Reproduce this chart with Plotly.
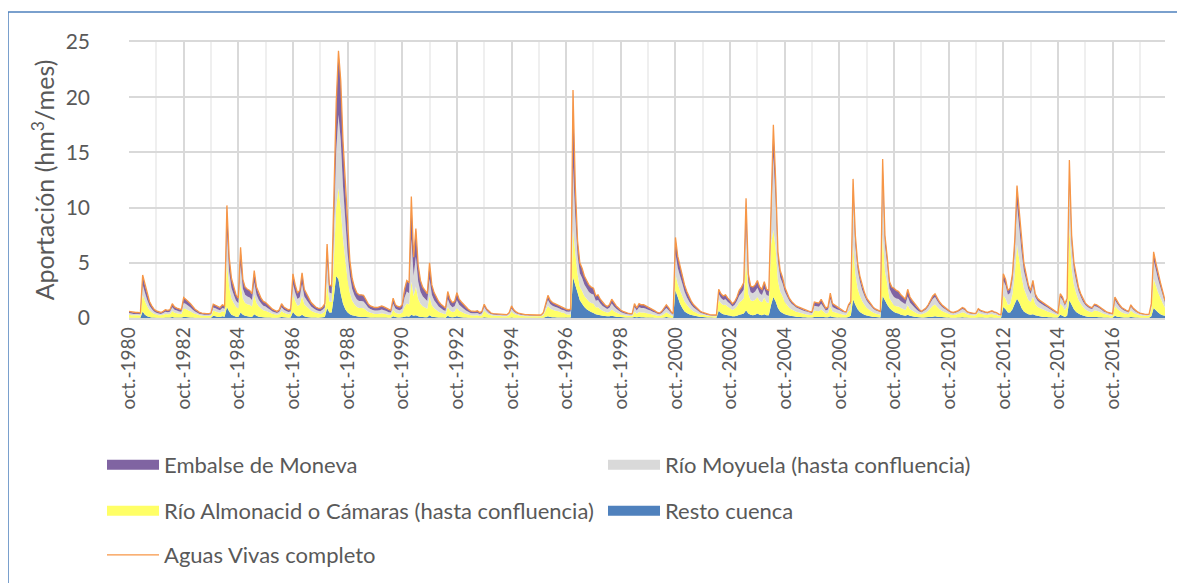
import plotly.graph_objects as go
import numpy as np

# Monthly contributions (hm3/month), hydrological years Oct-1980 .. Sep-2018 (12 values per row)
resto_cuenca = [
    0.03, 0.03, 0.03, 0.03, 0.03, 0.03, 0.6, 0.3, 0.15, 0.08, 0.05, 0.04,
    0.03, 0.03, 0.03, 0.03, 0.04, 0.04, 0.04, 0.08, 0.05, 0.04, 0.04, 0.04,
    0.1, 0.08, 0.06, 0.05, 0.04, 0.03, 0.03, 0.02, 0.02, 0.02, 0.02, 0.02,
    0.02, 0.2, 0.15, 0.1, 0.08, 0.15, 0.12, 1.0, 0.6, 0.3, 0.2, 0.12,
    0.1, 0.5, 0.3, 0.2, 0.15, 0.12, 0.1, 0.35, 0.2, 0.12, 0.08, 0.06,
    0.05, 0.04, 0.04, 0.03, 0.03, 0.03, 0.04, 0.1, 0.06, 0.04, 0.03, 0.05,
    0.55, 0.3, 0.15, 0.15, 0.3, 0.15, 0.1, 0.07, 0.05, 0.04, 0.04, 0.03,
    0.04, 0.06, 0.1, 0.9, 0.5, 0.5, 2.0, 3.8, 3.5, 2.2, 1.3, 0.8,
    0.5, 0.35, 0.25, 0.2, 0.15, 0.12, 0.1, 0.1, 0.08, 0.06, 0.05, 0.05,
    0.04, 0.04, 0.04, 0.05, 0.04, 0.04, 0.03, 0.03, 0.15, 0.08, 0.05, 0.05,
    0.06, 0.12, 0.15, 0.12, 0.3, 0.2, 0.25, 0.15, 0.1, 0.08, 0.07, 0.06,
    0.25, 0.12, 0.08, 0.06, 0.05, 0.04, 0.04, 0.03, 0.2, 0.1, 0.06, 0.08,
    0.15, 0.08, 0.06, 0.05, 0.04, 0.03, 0.03, 0.02, 0.02, 0.03, 0.02, 0.03,
    0.06, 0.04, 0.03, 0.02, 0.02, 0.02, 0.02, 0.02, 0.02, 0.02, 0.02, 0.03,
    0.05, 0.03, 0.03, 0.02, 0.02, 0.02, 0.02, 0.02, 0.02, 0.02, 0.02, 0.02,
    0.02, 0.02, 0.03, 0.1, 0.15, 0.1, 0.07, 0.06, 0.05, 0.05, 0.04, 0.04,
    0.04, 0.04, 0.04, 3.7, 3.0, 2.3, 1.6, 1.3, 1.0, 0.8, 0.65, 0.55,
    0.45, 0.35, 0.3, 0.25, 0.2, 0.18, 0.15, 0.15, 0.2, 0.15, 0.12, 0.1,
    0.08, 0.06, 0.05, 0.04, 0.04, 0.04, 0.1, 0.06, 0.08, 0.06, 0.06, 0.05,
    0.05, 0.04, 0.04, 0.03, 0.03, 0.02, 0.03, 0.05, 0.08, 0.05, 0.03, 0.02,
    2.5, 1.9, 1.3, 0.9, 0.6, 0.45, 0.35, 0.28, 0.22, 0.18, 0.14, 0.1,
    0.08, 0.06, 0.05, 0.04, 0.04, 0.03, 0.03, 0.65, 0.45, 0.35, 0.3, 0.25,
    0.2, 0.15, 0.15, 0.2, 0.3, 0.35, 0.4, 0.7, 0.4, 0.3, 0.25, 0.3,
    0.4, 0.3, 0.25, 0.35, 0.25, 0.25, 1.2, 1.9, 1.5, 0.9, 0.6, 0.45,
    0.35, 0.28, 0.22, 0.18, 0.15, 0.12, 0.1, 0.08, 0.07, 0.06, 0.05, 0.05,
    0.05, 0.1, 0.08, 0.08, 0.1, 0.08, 0.06, 0.06, 0.15, 0.08, 0.06, 0.05,
    0.05, 0.04, 0.04, 0.04, 0.1, 0.2, 1.7, 1.2, 0.8, 0.55, 0.4, 0.3,
    0.22, 0.17, 0.13, 0.1, 0.08, 0.06, 0.05, 2.0, 1.6, 1.2, 0.9, 0.7,
    0.55, 0.45, 0.4, 0.3, 0.25, 0.2, 0.3, 0.2, 0.15, 0.12, 0.08, 0.06,
    0.05, 0.05, 0.06, 0.08, 0.1, 0.12, 0.15, 0.12, 0.1, 0.08, 0.06, 0.05,
    0.04, 0.03, 0.03, 0.03, 0.04, 0.05, 0.06, 0.05, 0.04, 0.03, 0.03, 0.03,
    0.03, 0.05, 0.04, 0.04, 0.03, 0.03, 0.04, 0.04, 0.03, 0.03, 0.02, 0.02,
    1.0, 0.8, 0.5, 0.5, 0.8, 1.3, 1.75, 1.4, 0.9, 0.6, 0.45, 0.35,
    0.3, 0.35, 0.25, 0.2, 0.15, 0.12, 0.1, 0.08, 0.07, 0.06, 0.05, 0.04,
    0.04, 0.3, 0.2, 0.1, 0.2, 1.6, 1.2, 0.8, 0.55, 0.4, 0.3, 0.22,
    0.15, 0.12, 0.1, 0.08, 0.1, 0.08, 0.07, 0.06, 0.05, 0.04, 0.04, 0.03,
    0.03, 0.2, 0.12, 0.08, 0.06, 0.05, 0.04, 0.04, 0.1, 0.06, 0.05, 0.04,
    0.03, 0.03, 0.03, 0.02, 0.03, 0.15, 0.9, 0.7, 0.5, 0.35, 0.25, 0.2,
]

rio_almonacid = [
    0.26, 0.23, 0.21, 0.21, 0.21, 0.19, 1.49, 1.22, 0.92, 0.64, 0.47, 0.34,
    0.28, 0.23, 0.21, 0.26, 0.32, 0.30, 0.32, 0.55, 0.43, 0.39, 0.34, 0.32,
    0.79, 0.73, 0.65, 0.56, 0.43, 0.35, 0.28, 0.22, 0.19, 0.17, 0.17, 0.17,
    0.19, 0.47, 0.45, 0.41, 0.39, 0.47, 0.44, 4.14, 2.2, 1.49, 1.17, 0.89,
    0.77, 2.66, 1.44, 1.17, 1.1, 1.07, 0.95, 1.78, 1.17, 0.94, 0.77, 0.65,
    0.61, 0.52, 0.43, 0.35, 0.30, 0.26, 0.32, 0.54, 0.42, 0.36, 0.32, 0.34,
    1.55, 1.22, 0.97, 1.06, 1.71, 1.1, 0.95, 0.78, 0.61, 0.52, 0.43, 0.39,
    0.32, 0.38, 0.48, 2.32, 1.0, 0.96, 3.4, 6.28, 8.28, 7.72, 5.88, 4.48,
    3.0, 1.94, 1.34, 1.04, 0.86, 0.79, 0.8, 0.78, 0.65, 0.5, 0.42, 0.38,
    0.33, 0.33, 0.35, 0.38, 0.35, 0.31, 0.26, 0.24, 0.59, 0.4, 0.36, 0.34,
    0.41, 0.89, 1.17, 1.11, 3.0, 1.8, 2.6, 1.6, 1.19, 0.98, 0.87, 0.77,
    1.71, 1.04, 0.8, 0.66, 0.52, 0.44, 0.36, 0.31, 0.79, 0.58, 0.48, 0.51,
    0.77, 0.58, 0.5, 0.41, 0.33, 0.28, 0.22, 0.21, 0.21, 0.22, 0.17, 0.21,
    0.6, 0.41, 0.29, 0.22, 0.19, 0.18, 0.17, 0.16, 0.14, 0.14, 0.14, 0.24,
    0.53, 0.36, 0.26, 0.22, 0.18, 0.16, 0.14, 0.14, 0.13, 0.13, 0.13, 0.13,
    0.13, 0.13, 0.24, 0.6, 0.95, 0.75, 0.67, 0.62, 0.58, 0.53, 0.46, 0.43,
    0.29, 0.27, 0.29, 4.3, 2.9, 1.7, 1.2, 1.15, 1.0, 0.95, 0.85, 0.82,
    0.86, 0.63, 0.68, 0.55, 0.46, 0.39, 0.34, 0.4, 0.57, 0.46, 0.37, 0.3,
    0.24, 0.21, 0.17, 0.16, 0.14, 0.14, 0.46, 0.32, 0.46, 0.43, 0.43, 0.4,
    0.36, 0.33, 0.27, 0.24, 0.18, 0.16, 0.22, 0.32, 0.43, 0.34, 0.22, 0.14,
    1.45, 1.2, 1.2, 1.1, 0.9, 0.74, 0.59, 0.46, 0.37, 0.31, 0.25, 0.19,
    0.21, 0.18, 0.15, 0.13, 0.12, 0.12, 0.12, 0.98, 0.88, 0.83, 0.9, 0.78,
    0.7, 0.58, 0.68, 0.85, 1.1, 1.22, 1.4, 4.5, 1.8, 1.3, 1.28, 1.35,
    1.5, 1.25, 1.18, 1.48, 1.18, 1.12, 5.5, 6.1, 4.8, 2.5, 1.8, 1.55,
    1.1, 0.89, 0.71, 0.59, 0.52, 0.44, 0.41, 0.37, 0.33, 0.29, 0.27, 0.23,
    0.22, 0.57, 0.55, 0.53, 0.67, 0.51, 0.35, 0.39, 0.88, 0.51, 0.46, 0.4,
    0.36, 0.3, 0.25, 0.24, 0.5, 0.59, 4.9, 2.84, 1.89, 1.46, 1.13, 0.9,
    0.71, 0.6, 0.48, 0.38, 0.32, 0.29, 0.25, 5.58, 2.66, 1.94, 0.9, 0.75,
    0.6, 0.62, 0.65, 0.6, 0.56, 0.52, 0.85, 0.6, 0.52, 0.42, 0.34, 0.27,
    0.29, 0.36, 0.44, 0.58, 0.78, 0.98, 1.07, 0.87, 0.7, 0.58, 0.49, 0.42,
    0.34, 0.27, 0.24, 0.27, 0.32, 0.39, 0.46, 0.42, 0.29, 0.24, 0.22, 0.2,
    0.22, 0.42, 0.34, 0.29, 0.27, 0.24, 0.29, 0.32, 0.27, 0.24, 0.17, 0.15,
    1.05, 0.95, 0.7, 0.77, 1.4, 2.6, 4.9, 3.9, 2.9, 2.1, 1.7, 1.27,
    1.14, 1.59, 1.01, 0.83, 0.75, 0.69, 0.62, 0.56, 0.48, 0.41, 0.34, 0.27,
    0.21, 0.99, 0.88, 0.62, 0.83, 6.6, 3.28, 2.18, 1.69, 1.25, 0.99, 0.77,
    0.62, 0.54, 0.47, 0.45, 0.6, 0.58, 0.51, 0.44, 0.34, 0.29, 0.24, 0.2,
    0.19, 0.88, 0.72, 0.58, 0.46, 0.39, 0.34, 0.29, 0.57, 0.44, 0.34, 0.27,
    0.22, 0.18, 0.17, 0.16, 0.17, 0.6, 2.65, 2.24, 1.82, 1.48, 1.12, 0.73,
]

rio_moyuela = [
    0.16, 0.15, 0.13, 0.13, 0.13, 0.12, 0.92, 0.76, 0.57, 0.40, 0.29, 0.21,
    0.17, 0.15, 0.13, 0.16, 0.20, 0.18, 0.20, 0.34, 0.27, 0.24, 0.21, 0.20,
    0.49, 0.45, 0.40, 0.35, 0.27, 0.22, 0.17, 0.13, 0.12, 0.11, 0.11, 0.11,
    0.12, 0.29, 0.28, 0.25, 0.24, 0.29, 0.27, 2.58, 1.37, 0.92, 0.73, 0.55,
    0.48, 1.65, 0.9, 0.73, 0.69, 0.67, 0.59, 1.11, 0.73, 0.58, 0.48, 0.40,
    0.38, 0.32, 0.27, 0.22, 0.19, 0.16, 0.20, 0.34, 0.26, 0.23, 0.20, 0.21,
    0.97, 0.76, 0.6, 0.66, 1.06, 0.69, 0.59, 0.48, 0.38, 0.32, 0.27, 0.24,
    0.26, 0.30, 0.38, 1.86, 0.8, 0.77, 2.72, 5.02, 6.62, 6.18, 4.7, 3.58,
    2.4, 1.55, 1.07, 0.83, 0.69, 0.63, 0.64, 0.62, 0.52, 0.4, 0.34, 0.3,
    0.30, 0.30, 0.32, 0.35, 0.32, 0.28, 0.24, 0.22, 0.54, 0.37, 0.33, 0.31,
    0.38, 0.82, 1.07, 1.02, 3.85, 1.8, 2.7, 1.55, 1.09, 0.9, 0.8, 0.71,
    1.57, 0.95, 0.73, 0.61, 0.48, 0.40, 0.33, 0.29, 0.73, 0.53, 0.44, 0.47,
    0.71, 0.53, 0.46, 0.38, 0.3, 0.25, 0.2, 0.19, 0.19, 0.2, 0.16, 0.19,
    0.33, 0.23, 0.16, 0.12, 0.11, 0.1, 0.09, 0.09, 0.08, 0.08, 0.08, 0.13,
    0.29, 0.2, 0.15, 0.12, 0.1, 0.09, 0.08, 0.08, 0.07, 0.07, 0.07, 0.07,
    0.07, 0.07, 0.13, 0.34, 0.53, 0.42, 0.37, 0.35, 0.32, 0.29, 0.25, 0.24,
    0.27, 0.26, 0.27, 5.7, 3.3, 1.7, 1.25, 1.17, 1.03, 0.95, 0.86, 0.82,
    0.81, 0.59, 0.65, 0.52, 0.43, 0.37, 0.32, 0.38, 0.54, 0.43, 0.35, 0.29,
    0.22, 0.19, 0.16, 0.15, 0.13, 0.13, 0.43, 0.3, 0.44, 0.41, 0.41, 0.38,
    0.34, 0.31, 0.26, 0.22, 0.17, 0.15, 0.21, 0.31, 0.4, 0.32, 0.21, 0.14,
    1.9, 1.45, 1.3, 1.12, 0.88, 0.7, 0.56, 0.44, 0.35, 0.3, 0.24, 0.18,
    0.12, 0.1, 0.08, 0.07, 0.07, 0.07, 0.07, 0.55, 0.49, 0.46, 0.5, 0.43,
    0.39, 0.32, 0.38, 0.48, 0.62, 0.69, 0.78, 3.2, 1.0, 0.73, 0.71, 0.76,
    0.84, 0.7, 0.66, 0.83, 0.66, 0.63, 2.2, 6.6, 4.3, 1.75, 1.3, 1.15,
    0.98, 0.79, 0.63, 0.53, 0.46, 0.39, 0.36, 0.33, 0.29, 0.26, 0.24, 0.21,
    0.17, 0.45, 0.44, 0.42, 0.53, 0.4, 0.28, 0.31, 0.69, 0.4, 0.36, 0.31,
    0.32, 0.26, 0.22, 0.21, 0.44, 0.52, 4.36, 2.52, 1.68, 1.3, 1.0, 0.8,
    0.63, 0.53, 0.43, 0.34, 0.29, 0.26, 0.22, 4.96, 2.36, 1.72, 0.85, 0.75,
    0.75, 0.7, 0.68, 0.62, 0.57, 0.52, 0.8, 0.6, 0.5, 0.41, 0.32, 0.26,
    0.18, 0.23, 0.28, 0.37, 0.5, 0.62, 0.68, 0.55, 0.45, 0.37, 0.31, 0.26,
    0.22, 0.17, 0.16, 0.17, 0.2, 0.25, 0.29, 0.26, 0.18, 0.16, 0.14, 0.13,
    0.14, 0.26, 0.22, 0.18, 0.17, 0.16, 0.18, 0.2, 0.17, 0.16, 0.11, 0.09,
    1.35, 1.2, 0.9, 0.99, 1.25, 2.15, 3.6, 2.9, 2.2, 1.6, 1.3, 0.98,
    0.73, 1.0, 0.64, 0.53, 0.48, 0.44, 0.4, 0.35, 0.31, 0.26, 0.21, 0.17,
    0.14, 0.63, 0.56, 0.4, 0.53, 4.2, 2.08, 1.39, 1.07, 0.79, 0.63, 0.49,
    0.4, 0.34, 0.3, 0.29, 0.38, 0.37, 0.32, 0.28, 0.21, 0.18, 0.15, 0.13,
    0.12, 0.56, 0.46, 0.37, 0.29, 0.25, 0.22, 0.18, 0.36, 0.28, 0.21, 0.17,
    0.14, 0.12, 0.11, 0.1, 0.1, 0.38, 1.68, 1.42, 1.16, 0.94, 0.71, 0.46,
]

embalse_moneva = [
    0.15, 0.14, 0.13, 0.13, 0.13, 0.11, 0.89, 0.72, 0.56, 0.38, 0.29, 0.21,
    0.17, 0.14, 0.13, 0.15, 0.19, 0.18, 0.19, 0.33, 0.25, 0.23, 0.21, 0.19,
    0.47, 0.44, 0.39, 0.34, 0.26, 0.20, 0.17, 0.13, 0.12, 0.10, 0.10, 0.10,
    0.12, 0.29, 0.27, 0.24, 0.24, 0.29, 0.27, 2.48, 1.33, 0.89, 0.70, 0.54,
    0.45, 1.59, 0.86, 0.70, 0.66, 0.64, 0.56, 1.06, 0.70, 0.56, 0.47, 0.39,
    0.36, 0.32, 0.26, 0.20, 0.18, 0.15, 0.19, 0.32, 0.26, 0.22, 0.20, 0.20,
    0.93, 0.72, 0.58, 0.63, 1.03, 0.66, 0.56, 0.47, 0.36, 0.32, 0.26, 0.24,
    0.23, 0.26, 0.34, 1.62, 0.7, 0.67, 2.38, 4.4, 5.8, 5.4, 4.12, 3.14,
    2.1, 1.36, 0.94, 0.73, 0.6, 0.56, 0.56, 0.55, 0.45, 0.34, 0.29, 0.27,
    0.28, 0.28, 0.29, 0.32, 0.29, 0.27, 0.22, 0.21, 0.52, 0.35, 0.31, 0.30,
    0.35, 0.77, 1.01, 0.95, 3.85, 1.7, 2.55, 1.5, 1.02, 0.84, 0.76, 0.66,
    1.47, 0.89, 0.69, 0.57, 0.45, 0.37, 0.32, 0.27, 0.68, 0.49, 0.42, 0.44,
    0.67, 0.51, 0.43, 0.36, 0.28, 0.24, 0.2, 0.18, 0.18, 0.2, 0.15, 0.17,
    0.26, 0.17, 0.12, 0.09, 0.08, 0.08, 0.07, 0.06, 0.06, 0.06, 0.06, 0.10,
    0.23, 0.16, 0.11, 0.09, 0.08, 0.06, 0.06, 0.06, 0.06, 0.05, 0.05, 0.05,
    0.05, 0.06, 0.10, 0.26, 0.42, 0.33, 0.29, 0.27, 0.25, 0.23, 0.20, 0.19,
    0.20, 0.18, 0.20, 6.95, 2.8, 1.3, 0.95, 0.88, 0.77, 0.70, 0.64, 0.61,
    0.58, 0.43, 0.47, 0.38, 0.31, 0.26, 0.24, 0.27, 0.39, 0.31, 0.26, 0.21,
    0.16, 0.14, 0.12, 0.10, 0.09, 0.09, 0.31, 0.22, 0.32, 0.30, 0.30, 0.27,
    0.25, 0.22, 0.18, 0.16, 0.12, 0.12, 0.14, 0.22, 0.29, 0.24, 0.14, 0.10,
    1.45, 1.05, 0.9, 0.78, 0.62, 0.51, 0.40, 0.32, 0.26, 0.21, 0.17, 0.13,
    0.09, 0.08, 0.07, 0.06, 0.05, 0.05, 0.05, 0.42, 0.38, 0.36, 0.40, 0.34,
    0.31, 0.25, 0.29, 0.37, 0.48, 0.54, 0.62, 2.45, 0.8, 0.57, 0.56, 0.59,
    0.66, 0.55, 0.51, 0.64, 0.51, 0.50, 1.1, 2.9, 1.9, 0.85, 0.6, 0.55,
    0.37, 0.29, 0.24, 0.20, 0.17, 0.15, 0.13, 0.12, 0.11, 0.09, 0.09, 0.08,
    0.13, 0.33, 0.33, 0.32, 0.40, 0.31, 0.21, 0.24, 0.53, 0.31, 0.27, 0.24,
    0.12, 0.10, 0.09, 0.08, 0.16, 0.19, 1.64, 0.94, 0.63, 0.49, 0.37, 0.30,
    0.24, 0.20, 0.16, 0.13, 0.11, 0.09, 0.08, 1.86, 0.88, 0.64, 0.65, 0.6,
    0.8, 0.73, 0.67, 0.58, 0.52, 0.46, 0.65, 0.5, 0.43, 0.35, 0.26, 0.21,
    0.08, 0.11, 0.12, 0.17, 0.22, 0.28, 0.30, 0.26, 0.20, 0.17, 0.14, 0.12,
    0.10, 0.08, 0.07, 0.08, 0.09, 0.11, 0.14, 0.12, 0.09, 0.07, 0.06, 0.06,
    0.06, 0.12, 0.10, 0.09, 0.08, 0.07, 0.09, 0.09, 0.08, 0.07, 0.05, 0.04,
    0.6, 0.55, 0.4, 0.44, 0.55, 0.95, 1.75, 1.3, 1.0, 0.7, 0.55, 0.4,
    0.33, 0.46, 0.30, 0.24, 0.22, 0.20, 0.18, 0.16, 0.14, 0.12, 0.10, 0.07,
    0.06, 0.28, 0.26, 0.18, 0.24, 1.9, 0.94, 0.63, 0.49, 0.36, 0.28, 0.22,
    0.18, 0.15, 0.13, 0.13, 0.17, 0.17, 0.15, 0.12, 0.10, 0.09, 0.07, 0.06,
    0.06, 0.26, 0.20, 0.17, 0.14, 0.11, 0.10, 0.09, 0.17, 0.12, 0.10, 0.07,
    0.06, 0.05, 0.04, 0.05, 0.05, 0.17, 0.77, 0.64, 0.52, 0.43, 0.32, 0.21,
]

tick_labels = ["oct.-1980", "oct.-1982", "oct.-1984", "oct.-1986", "oct.-1988",
               "oct.-1990", "oct.-1992", "oct.-1994", "oct.-1996", "oct.-1998",
               "oct.-2000", "oct.-2002", "oct.-2004", "oct.-2006", "oct.-2008",
               "oct.-2010", "oct.-2012", "oct.-2014", "oct.-2016"]

n = len(resto_cuenca)
x = np.arange(n)
aguas_vivas = (np.array(resto_cuenca) + np.array(rio_almonacid)
               + np.array(rio_moyuela) + np.array(embalse_moneva))

FONT = "Lato"
TXT = "#595959"

fig = go.Figure()
series = [
    ("Resto cuenca", resto_cuenca, "#4F81BD", "legend4"),
    ("Río Almonacid o Cámaras (hasta confluencia)", rio_almonacid, "#FFFF66", "legend3"),
    ("Río Moyuela (hasta confluencia)", rio_moyuela, "#D9D9D9", "legend2"),
    ("Embalse de Moneva", embalse_moneva, "#8064A2", "legend"),
]
for name, vals, col, lg in series:
    fig.add_trace(go.Scatter(x=x, y=vals, name=name, stackgroup="one", mode="none",
                             fillcolor=col, line=dict(width=0), showlegend=False,
                             legendgroup=name))
    # legend-only entry with a wide swatch like the original area-chart key
    fig.add_trace(go.Scatter(x=[None], y=[None], name=name, mode="lines",
                             line=dict(color=col, width=12), legend=lg,
                             legendgroup=name, hoverinfo="skip"))
fig.add_trace(go.Scatter(x=x, y=aguas_vivas, name="Aguas Vivas completo", mode="lines",
                         line=dict(color="#F79646", width=1.3), legend="legend5"))

# page has an 8px body margin: page coordinate = figure coordinate + OFF
OFF = 8
W, H = 1185 - OFF, 583 - OFF
PL, PR, PT, PB = 129, 1165, 42, 318          # plot area in page pixels
L, T = PL - OFF, PT - OFF
R, B = W - (PR - OFF), H - (PB - OFF)
pw, ph = PR - PL, PB - PT

def px2x(px):
    return (px - PL) / pw

def py2y(py):
    return (PB - py) / ph

def leg(px, py):
    return dict(x=px2x(px), y=py2y(py), xanchor="left", yanchor="middle",
                orientation="h", itemwidth=52, bgcolor="rgba(0,0,0,0)",
                font=dict(family=FONT, size=22, color=TXT))

fig.update_layout(
    width=W, height=H,
    margin=dict(l=L, r=R, t=T, b=B, autoexpand=False),
    paper_bgcolor="white", plot_bgcolor="white",
    font=dict(family=FONT, color=TXT),
    showlegend=True,
    legend=leg(102, 465),
    legend2=leg(603, 465),
    legend3=leg(102, 511),
    legend4=leg(603, 511),
    legend5=leg(102, 555),
    xaxis=dict(
        range=[0, n - 1],
        tickmode="array", tickvals=list(range(0, n, 24)), ticktext=tick_labels,
        tickangle=-90, tickfont=dict(family=FONT, size=19, color=TXT),
        showgrid=True, gridcolor="#D9D9D9", gridwidth=1.5,
        minor=dict(tickmode="array", tickvals=list(range(12, n + 1, 24)),
                   showgrid=True, gridcolor="#EFEFEF", gridwidth=1.5),
        showline=True, linecolor="#D9D9D9", linewidth=1.5, mirror=True,
        ticks="", zeroline=False,
    ),
    yaxis=dict(
        range=[0, 25], dtick=5,
        tickfont=dict(family=FONT, size=21, color=TXT),
        showgrid=True, gridcolor="#D9D9D9", gridwidth=1.5,
        zeroline=False, ticks="", ticklen=0, ticklabelstandoff=38,
        title=dict(text="Aportación (hm<sup>3</sup>/mes)",
                   font=dict(family=FONT, size=25, color=TXT), standoff=3),
    ),
    shapes=[dict(type="rect", xref="paper", yref="paper",
                 x0=px2x(8), x1=px2x(1195), y0=py2y(600), y1=py2y(12),
                 line=dict(color="#4F81BD", width=1.5), fillcolor="rgba(0,0,0,0)",
                 layer="below")],
)

fig.write_html("out.html")
